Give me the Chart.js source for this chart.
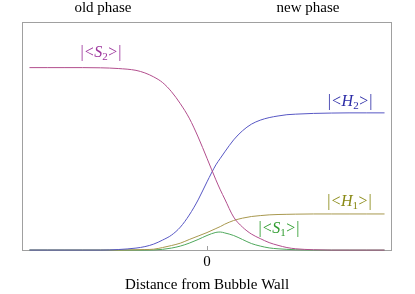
<!DOCTYPE html>
<html>
<head>
<meta charset="utf-8">
<script src="https://cdn.jsdelivr.net/npm/chart.js@4/dist/chart.umd.min.js"></script>
<style>
  html, body { margin: 0; padding: 0; background: #fff; }
  canvas { display: block; }
</style>
</head>
<body>
<canvas id="wallChart" width="415" height="294"></canvas>
<script>
// distance from the wall (arbitrary units, wall at 0)
const distances = [-10, -9, -8, -7, -6, -5, -4, -3.5, -3, -2.5, -2, -1.5, -1, -0.5, 0, 0.5, 0.75, 1, 1.5, 2, 2.5, 3, 3.5, 4, 4.5, 5, 6, 7, 8, 9, 10];

// |<S2>|, |<H2>|, |<H1>|, |<S1>|
const s2Values = [1.0, 1.0, 1.0, 1.0, 0.999, 0.995, 0.985, 0.971, 0.949, 0.918, 0.868, 0.802, 0.723, 0.620, 0.503, 0.385, 0.330, 0.280, 0.181, 0.126, 0.088, 0.063, 0.041, 0.026, 0.014, 0.007, 0.002, 0, 0, 0, 0];
const h2Values = [0, 0, 0, 0, 0, 0.003, 0.011, 0.019, 0.033, 0.055, 0.082, 0.126, 0.192, 0.275, 0.374, 0.467, 0.503, 0.538, 0.604, 0.654, 0.690, 0.712, 0.726, 0.735, 0.742, 0.745, 0.749, 0.751, 0.752, 0.752, 0.752];
const h1Values = [0, 0, 0, 0, 0, 0, 0.002, 0.003, 0.005, 0.014, 0.025, 0.038, 0.058, 0.077, 0.096, 0.118, 0.129, 0.142, 0.162, 0.175, 0.184, 0.189, 0.193, 0.195, 0.196, 0.197, 0.198, 0.198, 0.198, 0.198, 0.198];
const s1Values = [0, 0, 0, 0, 0, 0, 0, 0, 0.001, 0.004, 0.011, 0.022, 0.038, 0.058, 0.080, 0.097, 0.099, 0.094, 0.080, 0.058, 0.036, 0.022, 0.012, 0.007, 0.004, 0.002, 0, 0, 0, 0, 0];

// top labels and x ticks
const phaseTicks = [-5.86, 5.69];
const phaseLabels = ['old phase', 'new phase'];
const xTicks = [0];

// curve labels: letter, subscript, anchor (data coords)
const curveLetters = ['S', 'H', 'H', 'S'];
const curveSubs = ['2', '2', '1', '1'];
const curveLabelX = [-5.97, 8.06, 8.03, 4.06];
const curveLabelY = [1.08, 0.81, 0.262, 0.115];
const curveLabelColors = ['#9b339b', '#2b2ba6', '#8a8a16', '#2f9c2f'];

const serif = "'Liberation Serif', 'DejaVu Serif', serif";
const toPoints = vals => distances.map((d, i) => ({ x: d, y: vals[i] }));

// frame + small tick at 0
const framePlugin = {
  id: 'frame',
  beforeDatasetsDraw(chart) {
    const { ctx, chartArea: a } = chart;
    ctx.save();
    ctx.strokeStyle = '#a0a0a0';
    ctx.lineWidth = 1;
    ctx.strokeRect(a.left + 0.5, a.top + 0.5, a.right - a.left - 1, a.bottom - a.top - 1);
    const x0 = Math.round(chart.scales.x.getPixelForValue(0)) + 0.5;
    ctx.beginPath();
    ctx.moveTo(x0, a.bottom);
    ctx.lineTo(x0, a.bottom - 5);
    ctx.stroke();
    ctx.restore();
  }
};

// |<S2>| style labels
const curveLabelPlugin = {
  id: 'curveLabels',
  afterDatasetsDraw(chart) {
    const ctx = chart.ctx;
    const xs = chart.scales.x, ys = chart.scales.y;
    const big = '16px ' + serif, ital = 'italic 16px ' + serif, small = '11px ' + serif;
    ctx.save();
    ctx.textBaseline = 'middle';
    ctx.textAlign = 'left';
    curveLetters.forEach((letter, i) => {
      const parts = [
        { t: '|', f: big, dy: 0, gap: 1 },
        { t: '<', f: big, dy: 0, gap: 0.5 },
        { t: letter, f: ital, dy: 0, gap: 0 },
        { t: curveSubs[i], f: small, dy: 4, gap: 0.5 },
        { t: '>', f: big, dy: 0, gap: 1 },
        { t: '|', f: big, dy: 0, gap: 0 }
      ];
      let w = 0;
      parts.forEach(p => { ctx.font = p.f; p.w = ctx.measureText(p.t).width; w += p.w + p.gap; });
      let x = xs.getPixelForValue(curveLabelX[i]) - w / 2;
      const y = ys.getPixelForValue(curveLabelY[i]);
      ctx.fillStyle = curveLabelColors[i];
      parts.forEach(p => {
        ctx.font = p.f;
        ctx.fillText(p.t, x, y + p.dy);
        x += p.w + p.gap;
      });
    });
    ctx.restore();
  }
};

const lineStyle = color => ({
  borderColor: color,
  borderWidth: 1,
  pointRadius: 0,
  fill: false,
  cubicInterpolationMode: 'monotone'
});

new Chart(document.getElementById('wallChart').getContext('2d'), {
  type: 'line',
  data: {
    datasets: [
      { label: '|<S2>|', data: toPoints(s2Values), ...lineStyle('#b24e8d') },
      { label: '|<H2>|', data: toPoints(h2Values), ...lineStyle('#5757c4') },
      { label: '|<H1>|', data: toPoints(h1Values), ...lineStyle('#a8984e') },
      { label: '|<S1>|', data: toPoints(s1Values), ...lineStyle('#4fa85c') }
    ]
  },
  options: {
    responsive: false,
    animation: false,
    devicePixelRatio: 1,
    layout: { padding: { right: 23 } },
    plugins: { legend: { display: false }, tooltip: { enabled: false } },
    scales: {
      x: {
        type: 'linear',
        position: 'bottom',
        min: -10.42,
        max: 10.42,
        grid: { display: false, drawTicks: false },
        border: { display: false },
        afterBuildTicks: s => { s.ticks = xTicks.map(v => ({ value: v })); },
        afterFit: s => { s.height = 43; },
        ticks: {
          padding: 2,
          color: '#000',
          maxRotation: 0,
          autoSkip: false,
          font: { family: serif, size: 15 },
          callback: v => String(v)
        },
        title: {
          display: true,
          text: 'Distance from Bubble Wall',
          color: '#000',
          font: { family: serif, size: 15 },
          padding: { top: 0, bottom: 0 }
        }
      },
      xTop: {
        type: 'linear',
        axis: 'x',
        position: 'top',
        min: -10.42,
        max: 10.42,
        grid: { display: false, drawTicks: false },
        border: { display: false },
        afterBuildTicks: s => { s.ticks = phaseTicks.map(v => ({ value: v })); },
        afterFit: s => { s.height = 22; },
        ticks: {
          padding: 5,
          color: '#000',
          maxRotation: 0,
          autoSkip: false,
          font: { family: serif, size: 15 },
          callback: (v, i) => phaseLabels[i]
        }
      },
      y: {
        min: -0.005,
        max: 1.25,
        grid: { display: false },
        border: { display: false },
        ticks: { display: false },
        afterFit: s => { s.width = 22; }
      }
    }
  },
  plugins: [framePlugin, curveLabelPlugin]
});
</script>
</body>
</html>
